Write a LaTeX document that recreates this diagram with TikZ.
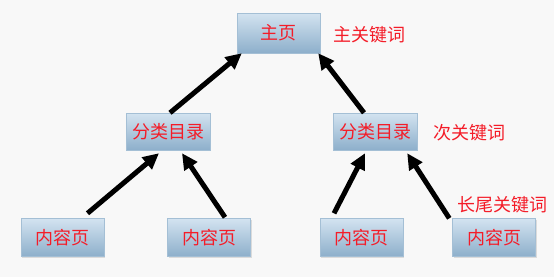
\documentclass[tikz,border=0pt]{standalone}
\usepackage{fontspec}
\setmainfont{Noto Sans CJK SC}
\usetikzlibrary{arrows.meta,calc,shadows}
\definecolor{bg}{HTML}{F8F8F8}
\definecolor{boxtop}{HTML}{D3E3F0}
\definecolor{boxbot}{HTML}{8DAFCB}
\definecolor{txtred}{HTML}{F41C28}
\tikzset{
  pagebox/.style={minimum width=83pt, minimum height=38pt, inner sep=0pt,
    top color=boxtop, bottom color=boxbot, draw=boxbot!80!white, line width=0.4pt,
    drop shadow={shadow xshift=1pt, shadow yshift=-1pt, fill=black!25, opacity=0.5},
    text=txtred, font=\fontsize{18}{18}\selectfont},
  keylabel/.style={text=txtred, font=\fontsize{18}{18}\selectfont, inner sep=0pt, anchor=west},
  link/.style={line width=5pt, -{Triangle[length=16pt,width=15pt]}, black}
}
\begin{document}
\begin{tikzpicture}[x=1pt,y=-1pt]
\fill[bg] (0,0) rectangle (554,277);
\useasboundingbox (0,0) rectangle (554,277);
\node[pagebox, minimum height=40pt] (top) at (278.5,33) {主页};
\node[keylabel] (k1) at (333,35) {主关键词};
\node[pagebox, minimum height=37pt, minimum width=84pt] (ml) at (168,131.5) {分类目录};
\node[pagebox, minimum height=37pt, minimum width=84pt] (mr) at (375,131.5) {分类目录};
\node[keylabel] (k2) at (433,133) {次关键词};
\node[pagebox] (b1) at (62.5,237.5) {内容页};
\node[pagebox] (b2) at (209,237.5) {内容页};
\node[pagebox] (b3) at (361.5,237.5) {内容页};
\node[pagebox] (b4) at (494,237.5) {内容页};
\node[keylabel] (k3) at (457,205) {长尾关键词};
\draw[link] ($(ml.north)+(2,0)$) -- ($(top.south west)+(5,0)$);
\draw[link] ($(mr.north)+(-11,0)$) -- ($(top.south east)+(-2,0)$);
\draw[link] ($(b1.north)+(25,-5)$) -- ($(ml.south)+(-9,3)$);
\draw[link] ($(b2.north)+(16,-1)$) -- ($(ml.south)+(14,3)$);
\draw[link] ($(b3.north)+(-27.5,-5)$) -- ($(mr.south)+(-10,3)$);
\draw[link] ($(b4.north west)+(-3,0)$) -- ($(mr.south east)+(-10,3)$);
\end{tikzpicture}
\end{document}
